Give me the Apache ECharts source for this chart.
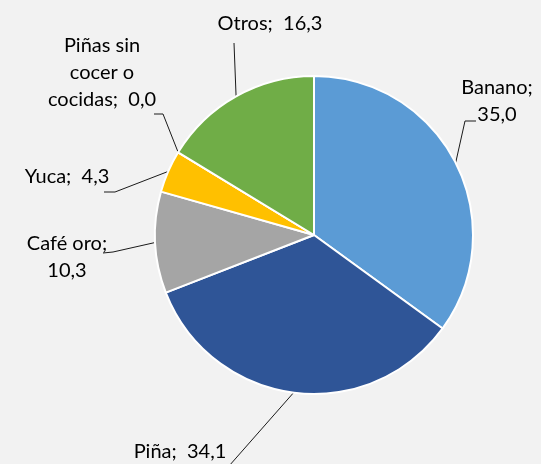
<!DOCTYPE html>
<html>
<head>
<meta charset="utf-8">
<script src="https://cdn.jsdelivr.net/npm/echarts@6/dist/echarts.min.js"></script>
<style>
    html, body { margin: 0; padding: 0; background: #f2f2f2; }
    #chart { width: 541px; height: 464px; }
</style>
</head>
<body>
<div id="chart"></div>
<script>
// datos (%)
var categories = ['Banano', 'Piña', 'Café oro', 'Yuca', 'Piñas sin cocer o cocidas', 'Otros'];
var labelNames = ['Banano;\n', 'Piña;  ', 'Café oro;\n', 'Yuca;  ', 'Piñas sin\ncocer o\ncocidas;  ', 'Otros;  '];
var values = [35.0, 34.1, 10.3, 4.3, 0.0, 16.3];
var colors = ['#5b9bd5', '#2f5597', '#a5a5a5', '#ffc000', '#4472c4', '#70ad47'];

// where excel put each label (center of text block) and the leader line tail
var labelPos = [[497, 101], [180, 452], [67, 257], [67, 177], [102, 73], [270, 24]];
var lineTail = [
    [[465, 121], [476, 121]],
    [[229, 466], [229, 466]],
    [[113, 252], [103, 253]],
    [[115, 192], [104, 192]],
    [[163, 114], [154, 114]],
    [[234, 43], [234, 43]]
];

var chart = echarts.init(document.getElementById('chart'));

var seriesData = [];
for (var i = 0; i < categories.length; i++) {
    seriesData.push({
        name: categories[i],
        value: values[i],
        itemStyle: { color: colors[i] }
    });
}

chart.setOption({
    backgroundColor: '#f2f2f2',
    animation: false,
    series: [{
        type: 'pie',
        center: [314, 235],
        radius: 159,
        startAngle: 90,
        clockwise: true,
        avoidLabelOverlap: false,
        itemStyle: { borderColor: '#fff', borderWidth: 2 },
        label: {
            show: true,
            color: '#000',
            fontFamily: 'Lato',
            fontSize: 20,
            lineHeight: 27,
            align: 'center',
            formatter: function (p) {
                return labelNames[p.dataIndex] + p.value.toFixed(1).replace('.', ',');
            }
        },
        labelLine: {
            show: true,
            lineStyle: { color: '#1a1a1a', width: 1 }
        },
        labelLayout: function (p) {
            var pos = labelPos[p.dataIndex];
            var tail = lineTail[p.dataIndex];
            var res = { x: pos[0], y: pos[1], align: 'center', verticalAlign: 'middle' };
            if (p.labelLinePoints) {
                res.labelLinePoints = [p.labelLinePoints[0], tail[0], tail[1]];
            }
            return res;
        },
        emphasis: { disabled: true },
        data: seriesData
    }]
});
</script>
</body>
</html>
